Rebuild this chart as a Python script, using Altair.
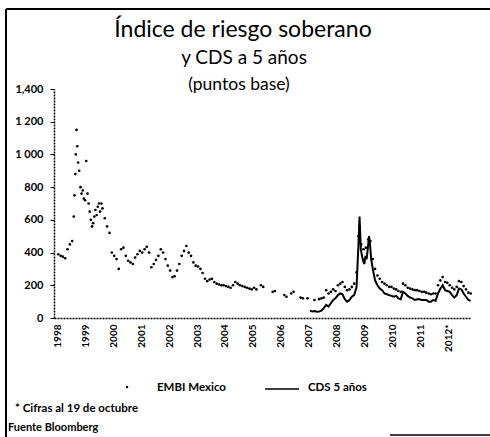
import altair as alt
import pandas as pd

# EMBI Mexico spread (basis points)
embi_fechas = [
    "1998-01-15", "1998-02-15", "1998-03-15", "1998-04-15", "1998-05-15", "1998-06-15",
    "1998-07-15", "1998-08-05", "1998-08-15", "1998-08-25", "1998-09-01", "1998-09-10",
    "1998-09-20", "1998-10-01", "1998-10-15", "1998-11-01", "1998-11-15", "1998-12-01",
    "1998-12-15", "1999-01-01", "1999-01-15", "1999-02-01", "1999-02-15", "1999-03-01",
    "1999-03-15", "1999-04-01", "1999-04-15", "1999-05-01", "1999-05-15", "1999-06-01",
    "1999-06-15", "1999-07-01", "1999-07-15", "1999-08-01", "1999-08-15", "1999-09-15",
    "1999-10-15", "1999-11-15", "1999-12-15",
    "2000-01-15", "2000-02-15", "2000-03-15", "2000-04-15", "2000-05-15", "2000-06-15",
    "2000-07-15", "2000-08-15", "2000-09-15", "2000-10-15", "2000-11-15", "2000-12-15",
    "2001-01-15", "2001-02-15", "2001-03-15", "2001-04-15", "2001-05-15", "2001-06-15",
    "2001-07-15", "2001-08-15", "2001-09-15", "2001-10-15", "2001-11-15", "2001-12-15",
    "2002-01-15", "2002-02-15", "2002-03-15", "2002-04-15", "2002-05-15", "2002-06-15",
    "2002-07-15", "2002-08-15", "2002-09-15", "2002-10-15", "2002-11-15", "2002-12-15",
    "2003-01-15", "2003-02-15", "2003-03-15", "2003-04-15", "2003-05-15", "2003-06-15",
    "2003-07-15", "2003-08-15", "2003-09-15", "2003-10-15", "2003-11-15", "2003-12-15",
    "2004-01-15", "2004-02-15", "2004-03-15", "2004-04-15", "2004-05-15", "2004-06-15",
    "2004-07-15", "2004-08-15", "2004-09-15", "2004-10-15", "2004-11-15", "2004-12-15",
    "2005-01-15", "2005-02-15", "2005-04-15", "2005-05-15", "2005-09-15", "2005-10-15",
    "2006-02-15", "2006-03-15", "2006-05-15", "2006-06-15", "2006-09-15", "2006-10-15",
    "2006-12-15",
    "2007-03-15", "2007-05-15", "2007-06-15", "2007-07-15", "2007-08-15", "2007-09-15",
    "2007-10-15", "2007-11-15", "2007-12-15",
    "2008-01-15", "2008-02-15", "2008-03-15", "2008-04-15", "2008-05-15", "2008-06-15",
    "2008-07-15", "2008-08-15", "2008-09-15", "2008-10-10", "2008-10-24", "2008-11-15",
    "2008-12-15",
    "2009-01-15", "2009-02-15", "2009-03-15", "2009-04-15", "2009-05-15", "2009-06-15",
    "2009-07-15", "2009-08-15", "2009-09-15", "2009-10-15", "2009-11-15", "2009-12-15",
    "2010-01-15", "2010-02-15", "2010-03-15", "2010-04-15", "2010-05-15", "2010-06-15",
    "2010-07-15", "2010-08-15", "2010-09-15", "2010-10-15", "2010-11-15", "2010-12-15",
    "2011-01-15", "2011-02-15", "2011-03-15", "2011-04-15", "2011-05-15", "2011-06-15",
    "2011-07-15", "2011-08-15", "2011-09-15", "2011-10-15", "2011-11-15", "2011-12-15",
    "2012-01-15", "2012-02-15", "2012-03-15", "2012-04-15", "2012-05-15", "2012-06-15",
    "2012-07-15", "2012-08-15", "2012-09-15", "2012-10-15",
]
embi_valores = [
    390, 380, 375, 365, 420, 450,
    470, 620, 750, 880, 1000, 1150,
    1050, 950, 900, 800, 760, 780,
    730, 720, 960, 760, 700, 650,
    600, 560, 580, 620, 660, 630,
    680, 700, 650, 700, 670, 610,
    560, 520, 400,
    380, 360, 300, 420, 430, 380,
    350, 340, 330, 370, 390, 410,
    400, 420, 435, 400, 310, 330,
    355, 380, 420, 400, 360, 320,
    290, 250, 255, 290, 330, 380,
    410, 440, 400, 380, 340, 320,
    315, 300, 275, 240, 225, 235,
    240, 220, 210, 205, 200, 200,
    195, 190, 185, 200, 220, 210,
    200, 195, 190, 185, 180, 175,
    185, 175, 200, 190, 160, 165,
    140, 130, 150, 160, 125, 120,
    120,
    110, 115, 120, 125, 170, 150,
    160, 175, 165,
    200, 210, 220, 190, 170, 175,
    190, 210, 280, 500, 560, 450,
    420,
    430, 480, 470, 360, 300, 260,
    240, 220, 210, 200, 190, 190,
    180, 175, 165, 160, 210, 200,
    185, 180, 175, 170, 170, 165,
    160, 160, 155, 150, 145, 150,
    150, 200, 230, 250, 220, 215,
    200, 185, 175, 190, 225, 220,
    195, 175, 155, 150,
]

# CDS 5 años (basis points)
cds_fechas = [
    "2007-01-15", "2007-02-15", "2007-03-15", "2007-04-15", "2007-05-15", "2007-06-15",
    "2007-07-15", "2007-08-15", "2007-09-15", "2007-10-15", "2007-11-15", "2007-12-15",
    "2008-01-15", "2008-02-15", "2008-03-15", "2008-04-15", "2008-05-15", "2008-06-15",
    "2008-07-15", "2008-08-15", "2008-09-15", "2008-10-10", "2008-10-24", "2008-11-10",
    "2008-11-25", "2008-12-10", "2008-12-25", "2009-01-10", "2009-01-25", "2009-02-10",
    "2009-02-25", "2009-03-10", "2009-03-25", "2009-04-15", "2009-05-15", "2009-06-15",
    "2009-07-15", "2009-08-15", "2009-09-15", "2009-10-15", "2009-11-15", "2009-12-15",
    "2010-01-15", "2010-02-15", "2010-03-15", "2010-04-15", "2010-05-15", "2010-06-15",
    "2010-07-15", "2010-08-15", "2010-09-15", "2010-10-15", "2010-11-15", "2010-12-15",
    "2011-01-15", "2011-02-15", "2011-03-15", "2011-04-15", "2011-05-15", "2011-06-15",
    "2011-07-15", "2011-08-15", "2011-09-15", "2011-10-15", "2011-11-15", "2011-12-15",
    "2012-01-15", "2012-02-15", "2012-03-15", "2012-04-15", "2012-05-15", "2012-06-15",
    "2012-07-15", "2012-08-15", "2012-09-15", "2012-10-15",
]
cds_valores = [
    45, 40, 42, 38, 40, 45,
    60, 80, 70, 90, 110, 120,
    140, 150, 145, 115, 100, 110,
    130, 140, 190, 450, 620, 420,
    380, 350, 330, 380, 360, 430,
    500, 450, 360, 300, 230, 200,
    180, 170, 150, 145, 140, 135,
    130, 135, 120, 115, 160, 150,
    135, 125, 120, 110, 115, 115,
    110, 110, 110, 100, 100, 110,
    105, 150, 180, 200, 170, 165,
    160, 140, 125, 140, 180, 175,
    150, 130, 110, 105,
]

anios = list(range(1998, 2013))
y_ticks = [0, 200, 400, 600, 800, 1000, 1200, 1400]

FONT = "Lato"

embi = pd.DataFrame({"fecha": embi_fechas, "valor": embi_valores})
cds = pd.DataFrame({"fecha": cds_fechas, "valor": cds_valores})

x_scale = alt.Scale(domain=["1997-11-20", "2012-10-19"])
y_scale = alt.Scale(domain=[0, 1400], nice=False)

eje_x = alt.Axis(
    values=[alt.DateTime(year=a, month=1, date=1) for a in anios],
    labelExpr="year(datum.value) == 2012 ? '2012*' : timeFormat(datum.value, '%Y')",
    labelAngle=270,
    labelFontWeight="bold",
    labelFontSize=10,
    labelPadding=6,
    labelOverlap=False,
    labelBound=False,
    ticks=False,
    grid=False,
    domainDash=[2, 1],
    domainColor="#000",
    domainWidth=1.5,
)
eje_y = alt.Axis(
    values=y_ticks,
    labelExpr=(
        "datum.value == 1400 ? '1,400' : "
        "datum.value >= 1000 ? replace(format(datum.value, ','), ',', ' ') : "
        "format(datum.value, 'd')"
    ),
    labelFontWeight="bold",
    labelFontSize=11,
    labelPadding=7,
    labelOverlap=False,
    labelBound=False,
    tickSize=4,
    tickColor="#000",
    grid=False,
    domainDash=[2, 1],
    domainColor="#000",
    domainWidth=1.5,
)


def codificar(chart):
    return chart.encode(
        x=alt.X("fecha:T", scale=x_scale, title=None, axis=eje_x),
        y=alt.Y("valor:Q", scale=y_scale, title=None, axis=eje_y),
    )


puntos = codificar(alt.Chart(embi).mark_circle(size=7, color="#000", opacity=1))
linea = codificar(alt.Chart(cds).mark_line(color="#000", strokeWidth=2))

uno = alt.Data(values=[{"k": 0}])


def texto(t, x, y, size, weight="normal", align="left"):
    return alt.Chart(uno).mark_text(
        text=t, font=FONT, fontSize=size, fontWeight=weight, align=align,
        baseline="alphabetic", color="#000",
    ).encode(x=alt.value(x), y=alt.value(y))


def regla(x, y, x2, y2, w=2):
    return alt.Chart(uno).mark_rule(color="#000", strokeWidth=w).encode(
        x=alt.value(x), y=alt.value(y), x2=alt.value(x2), y2=alt.value(y2)
    )


titulos = [
    texto("Índice de riesgo soberano", 189, -52, 23, align="center"),
    texto("y CDS a 5 años", 190, -25, 19, align="center"),
    texto("(puntos base)", 185, 1, 17.5, align="center"),
]

leyenda = [
    alt.Chart(uno).mark_circle(size=7, color="#000", opacity=1).encode(
        x=alt.value(73), y=alt.value(298)
    ),
    texto("EMBI Mexico", 103, 302, 11.5, "bold"),
    regla(211, 300, 245, 300, w=1.5),
    texto("CDS 5 años", 254, 302, 11.5, "bold"),
]

notas = [
    texto("* Cifras al 19 de octubre", -39, 323, 11.5, "bold"),
    texto("Fuente  Bloomberg", -46, 342, 11, "bold"),
]

marco = [
    regla(-48, -80, -48, 348),
    regla(-48, -80, 436, -80),
    regla(336, 346, 436, 346, w=1.5),
]

chart = alt.layer(
    puntos, linea, *titulos, *leyenda, *notas, *marco
).properties(
    width=417,
    height=229,
    padding={"left": 54, "top": 89, "right": 19, "bottom": 119},
    autosize=alt.AutoSizeParams(type="none"),
).configure_view(stroke=None).configure_axis(
    labelFont=FONT, labelColor="#000"
)

chart.save("out.html", embed_options={"renderer": "svg", "actions": False})
